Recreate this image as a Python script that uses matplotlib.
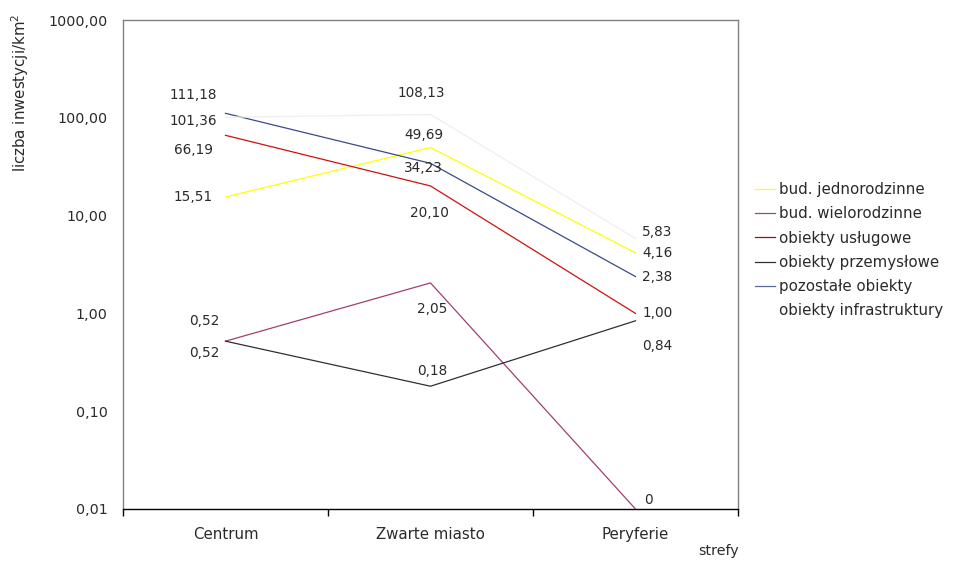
import numpy as np
import matplotlib
matplotlib.use("Agg")
import matplotlib.pyplot as plt
from matplotlib.ticker import FixedLocator, FuncFormatter

plt.rcParams['font.family'] = ['DejaVu Sans']

# data
strefy = ["Centrum", "Zwarte miasto", "Peryferie"]
series_names = ["bud. jednorodzinne", "bud. wielorodzinne", "obiekty usługowe",
                "obiekty przemysłowe", "pozostałe obiekty", "obiekty infrastruktury"]
jednorodzinne = [15.51, 49.69, 4.16]
wielorodzinne = [0.52, 2.05, 0.0]
uslugowe = [66.19, 20.10, 1.00]
przemyslowe = [0.52, 0.18, 0.84]
pozostale = [111.18, 34.23, 2.38]
infrastruktura = [101.36, 108.13, 5.83]
y_ticks = [0.01, 0.1, 1, 10, 100, 1000]

values = [jednorodzinne, wielorodzinne, uslugowe, przemyslowe, pozostale, infrastruktura]
colors = ["#ffff00", "#a04070", "#d01010", "#303030", "#3a4a8a", "#eeeeee"]
legend_colors = ["#ffff00", "#8a5a5a", "#a01010", "#303030", "#5a6a9a", "#ffffff"]

# label offsets in pixels (dx, dy up) per series and category
offsets = [
    [(-32, 0), (-7, 13), (22, 0)],
    [(-21, 20), (2, -26), (13, 9)],
    [(-32, -15), (-1, -27), (22, 0)],
    [(-21, -12), (2, 15), (22, -25)],
    [(-32, 18), (-7, -5), (22, 0)],
    [(-32, -4), (-9, 21), (22, 7)],
]

ymin, ymax = y_ticks[0], y_ticks[-1]
txt = "#2a2a2a"


def fmt(v):
    return "0" if v == 0 else f"{v:.2f}".replace(".", ",")


fig = plt.figure(figsize=(9.55, 5.65), dpi=100)
ax = fig.add_axes([123 / 955, 1 - 509 / 565, 615 / 955, 489 / 565])
x = np.arange(len(strefy))

for name, vals, c, off in zip(series_names, values, colors, offsets):
    plot_vals = np.clip(vals, ymin, None)
    ax.plot(x, plot_vals, color=c, lw=0.9, clip_on=True, zorder=3)
    for xi, v, pv, (dx, dy) in zip(x, vals, plot_vals, off):
        ax.annotate(fmt(v), (xi, pv), xytext=(dx, dy), textcoords="offset pixels",
                    ha="center", va="center", fontsize=9.8, color=txt, zorder=4)

ax.set_yscale("log")
ax.set_ylim(ymin, ymax)
ax.set_xlim(-0.5, 2.5)
ax.yaxis.set_major_locator(FixedLocator(y_ticks))
ax.yaxis.set_minor_locator(FixedLocator([]))
ax.yaxis.set_major_formatter(FuncFormatter(lambda v, p: f"{v:.2f}".replace(".", ",")))
ax.tick_params(axis="y", length=0, pad=11, labelsize=10.3, labelcolor=txt)

ax.xaxis.set_major_locator(FixedLocator([-0.5, 0.5, 1.5, 2.5]))
ax.xaxis.set_major_formatter(FuncFormatter(lambda v, p: ""))
ax.xaxis.set_minor_locator(FixedLocator(x))
ax.set_xticklabels(strefy, minor=True)
ax.tick_params(axis="x", which="major", length=5, width=1, color="black", direction="out")
ax.tick_params(axis="x", which="minor", length=0, pad=13, labelsize=10.8, labelcolor=txt)

for s in ["left", "top", "right"]:
    ax.spines[s].set_color("#808080")
    ax.spines[s].set_linewidth(1)
ax.spines["bottom"].set_color("black")
ax.spines["bottom"].set_linewidth(1)

fig.text(20 / 955, 1 - 14 / 565, "liczba inwestycji/km$^2$", rotation=90,
         ha="center", va="top", fontsize=10.8, color=txt)
fig.text(718 / 955, 1 - 551 / 565, "strefy", ha="center", va="center",
         fontsize=10.3, color=txt)

handles = [plt.Line2D([], [], color=c, lw=0.9) for c in legend_colors]
fig.legend(handles, series_names, loc="upper left", bbox_to_anchor=(755 / 955, 1 - 182 / 565),
           frameon=False, fontsize=10.8, handlelength=1.3, handletextpad=0.3,
           labelspacing=0.62, borderaxespad=0, borderpad=0, labelcolor=txt)

fig.savefig("out.png", dpi=100)
